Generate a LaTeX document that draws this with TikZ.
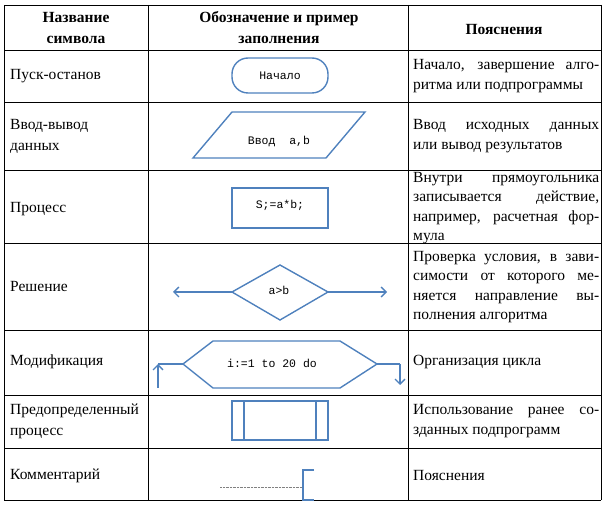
\documentclass[tikz,border=0pt]{standalone}
\usepackage{fontspec}
\usetikzlibrary{arrows.meta}
\setmainfont{Liberation Serif}
\newfontfamily\monof{Liberation Mono}
\definecolor{sb}{HTML}{4F81BD}
\begin{document}
\begin{tikzpicture}[x=1pt,y=-1pt,
  grid/.style={draw=black,line width=0.8pt},
  shp/.style={draw=sb,line width=1.4pt},
  cell/.style={align=left,font=\fontsize{15.5}{21}\selectfont,inner sep=0pt},
  ex/.style={anchor=west,text width=186pt,align=justify,font=\fontsize{15.5}{19.5}\selectfont,inner sep=0pt},
  hd/.style={align=center,font=\bfseries\fontsize{15.5}{21}\selectfont,inner sep=0pt},
  mono/.style={font=\monof\fontsize{11.5}{13}\selectfont,inner sep=0pt},
  arr/.style={shp,-{Straight Barb[length=5pt,width=10pt]}}]
\useasboundingbox (0,0) rectangle (606,505);
% grid
\foreach \y in {5,50,102,170,243,330,395,448,500} \draw[grid] (4,\y) -- (601,\y);
\foreach \x in {4,148,408,601} \draw[grid] (\x,5) -- (\x,500);
% header
\node[hd] (h1) at (76,28) {Название\\символа};
\node[hd] (h2) at (279,28) {Обозначение и пример\\заполнения};
\node[hd] (h3) at (504,30) {Пояснения};
% names
\node[cell,anchor=west] (n1) at (10,76) {Пуск-останов};
\node[cell,anchor=west] (n2) at (10,136) {Ввод-вывод\\данных};
\node[cell,anchor=west] (n3) at (10,209) {Процесс};
\node[cell,anchor=west] (n4) at (10,287) {Решение};
\node[cell,anchor=west] (n5) at (10,362) {Модификация};
\node[cell,anchor=west] (n6) at (10,421) {Предопределенный\\процесс};
\node[cell,anchor=west] (n7) at (10,476) {Комментарий};
% explanations
\node[ex] (e1) at (413,76) {Начало, завершение алго-\linebreak ритма или подпрограммы};
\node[ex] (e2) at (413,136) {Ввод исходных данных\linebreak или вывод результатов};
\node[ex] (e3) at (413,208) {Внутри прямоугольника\linebreak записывается действие,\linebreak например, расчетная фор-\linebreak мула};
\node[ex] (e4) at (413,287) {Проверка условия, в зави-\linebreak симости от которого ме-\linebreak няется направление вы-\linebreak полнения алгоритма};
\node[cell,anchor=west] (e5) at (413,362) {Организация цикла};
\node[ex] (e6) at (413,421) {Использование ранее со-\linebreak зданных подпрограмм};
\node[cell,anchor=west] (e7) at (413,476) {Пояснения};
% shapes
\draw[shp,rounded corners=16pt] (232,58) rectangle (328,93);
\node[mono] (t1) at (280,76) {Начало};
\draw[shp] (193,158) -- (232,112) -- (365,112) -- (326,158) -- cycle;
\node[mono] (t2) at (279,141) {Ввод\ \ a,b};
\draw[shp] (232,188) rectangle (328,228);
\node[mono] (t3) at (280,205) {S;=a*b;};
\draw[shp] (232,292) -- (280,265) -- (328,292) -- (280,320) -- cycle;
\node[mono] (t4) at (279,290) {a>b};
\coordinate (dl) at (232,292); \coordinate (dr) at (328,292);
\coordinate (al) at (173,292); \coordinate (ar) at (387,292);
\draw[arr] (dl) -- (al);
\draw[arr] (dr) -- (ar);
\draw[shp] (183,364) -- (213,341) -- (340,341) -- (377,364) -- (340,388) -- (213,388) -- cycle;
\node[mono] (t5) at (272,363) {i:=1 to 20 do};
\coordinate (hl) at (183,364); \coordinate (hr) at (377,364);
\coordinate (lb) at (158,388); \coordinate (rb) at (400,385);
\draw[shp] (hl) -- (158,364);
\draw[arr] (lb) -- (158,364);
\draw[shp] (hr) -- (400,364);
\draw[arr] (400,364) -- (rb);
\draw[shp] (232,401) rectangle (328,440);
\draw[shp] (244,401) -- (244,440) (316,401) -- (316,440);
\draw[densely dotted,gray] (220,487) -- (303,487);
\draw[shp] (314,470) -- (303,470) -- (303,500) -- (314,500);
\end{tikzpicture}
\end{document}
